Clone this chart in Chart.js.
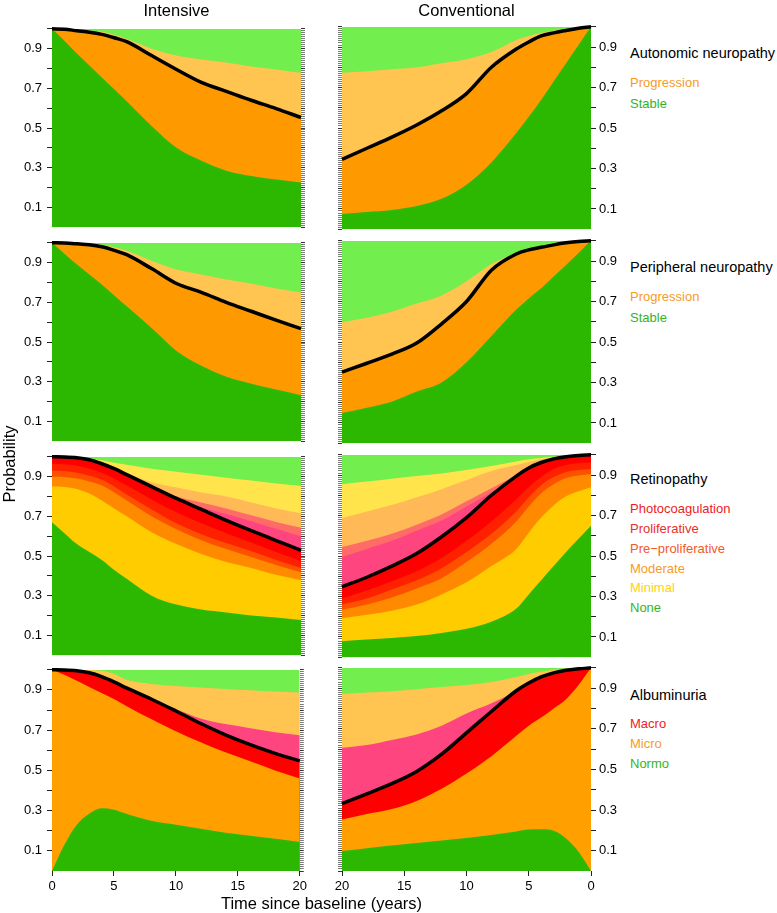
<!DOCTYPE html>
<html><head><meta charset="utf-8">
<script src="https://cdn.jsdelivr.net/npm/chart.js@4"></script>
<style>
body{margin:0;width:777px;height:913px;background:#fff;position:relative;overflow:hidden;font-family:"Liberation Sans",Arial,sans-serif;}
canvas{position:absolute;}
.t{position:absolute;white-space:nowrap;line-height:20px;height:20px;}
</style></head><body>
<script>
// ---- data (years since baseline; cumulative band upper edges) ----
const YEARS = [0,1,2,3,4,5,6,8,10,12,14,16,18,20];
const X_TICKS = [0,5,10,15,20];
const TOP = [1,1,1,1,1,1,1,1,1,1,1,1,1,1];

// Autonomic neuropathy
const AN_INT_STABLE = [1.0,0.94,0.875,0.815,0.755,0.695,0.635,0.51,0.40,0.335,0.285,0.258,0.24,0.225];
const AN_INT_PROG   = [1.0,0.998,0.99,0.983,0.972,0.955,0.935,0.865,0.795,0.73,0.685,0.64,0.598,0.553];
const AN_INT_LPROG  = [1.0,1.0,0.998,0.99,0.985,0.97,0.95,0.90,0.865,0.845,0.83,0.81,0.795,0.778];
const AN_CON_STABLE = [1.0,0.91,0.82,0.73,0.64,0.555,0.475,0.33,0.22,0.15,0.115,0.095,0.085,0.075];
const AN_CON_PROG   = [1.0,0.993,0.982,0.97,0.955,0.925,0.89,0.80,0.67,0.585,0.515,0.455,0.40,0.345];
const AN_CON_LPROG  = [1.0,0.997,0.99,0.982,0.97,0.955,0.935,0.875,0.84,0.82,0.80,0.79,0.78,0.773];

// Peripheral neuropathy
const PN_INT_STABLE = [1.0,0.945,0.89,0.84,0.79,0.735,0.68,0.57,0.455,0.38,0.325,0.29,0.26,0.232];
const PN_INT_PROG   = [1.0,0.999,0.995,0.99,0.98,0.962,0.94,0.87,0.795,0.75,0.70,0.655,0.61,0.567];
const PN_INT_LPROG  = [1.0,1.0,1.0,0.997,0.99,0.978,0.96,0.91,0.865,0.84,0.815,0.795,0.77,0.75];
const PN_CON_STABLE = [1.0,0.94,0.88,0.823,0.765,0.715,0.66,0.53,0.40,0.30,0.255,0.205,0.175,0.149];
const PN_CON_PROG   = [1.0,0.997,0.99,0.98,0.968,0.955,0.935,0.855,0.70,0.59,0.495,0.44,0.395,0.351];
const PN_CON_LPROG  = [1.0,0.999,0.995,0.986,0.975,0.96,0.94,0.885,0.80,0.73,0.69,0.65,0.62,0.598];

// Retinopathy
const RE_INT_NONE    = [0.67,0.615,0.56,0.52,0.48,0.43,0.385,0.30,0.255,0.23,0.215,0.20,0.19,0.177];
const RE_INT_MIN     = [0.85,0.848,0.838,0.815,0.78,0.74,0.70,0.62,0.56,0.51,0.47,0.44,0.405,0.378];
const RE_INT_MOD     = [0.90,0.898,0.89,0.875,0.855,0.82,0.78,0.70,0.635,0.58,0.535,0.495,0.455,0.418];
const RE_INT_PRE     = [0.93,0.928,0.92,0.905,0.885,0.85,0.81,0.735,0.665,0.61,0.565,0.525,0.48,0.44];
const RE_INT_PROL    = [0.965,0.962,0.955,0.94,0.92,0.89,0.855,0.785,0.72,0.665,0.615,0.568,0.52,0.475];
const RE_INT_PHOTO   = [1.0,0.999,0.995,0.985,0.965,0.94,0.91,0.85,0.79,0.735,0.68,0.628,0.578,0.528];
const RE_INT_PINK    = [1.0,0.999,0.995,0.985,0.965,0.94,0.91,0.85,0.79,0.745,0.712,0.675,0.637,0.60];
const RE_INT_SALMON  = [1.0,0.999,0.995,0.985,0.965,0.94,0.91,0.855,0.80,0.77,0.74,0.705,0.672,0.642];
const RE_INT_LORANGE = [1.0,1.0,0.997,0.988,0.968,0.945,0.918,0.872,0.845,0.82,0.80,0.77,0.74,0.716];
const RE_INT_LYELLOW = [1.0,1.0,0.998,0.992,0.982,0.97,0.96,0.94,0.925,0.91,0.895,0.88,0.865,0.853];
const RE_CON_NONE    = [0.65,0.585,0.52,0.45,0.38,0.31,0.24,0.175,0.14,0.12,0.105,0.095,0.087,0.079];
const RE_CON_MIN     = [0.84,0.82,0.795,0.75,0.69,0.615,0.535,0.45,0.37,0.31,0.26,0.23,0.21,0.193];
const RE_CON_MOD     = [0.905,0.898,0.885,0.855,0.81,0.745,0.67,0.56,0.47,0.39,0.34,0.295,0.26,0.234];
const RE_CON_PRE     = [0.93,0.925,0.915,0.89,0.85,0.79,0.72,0.61,0.52,0.44,0.38,0.335,0.29,0.26];
const RE_CON_PROL    = [0.962,0.958,0.95,0.93,0.89,0.84,0.78,0.67,0.575,0.49,0.425,0.375,0.33,0.29];
const RE_CON_PHOTO   = [1.0,0.997,0.99,0.98,0.962,0.935,0.895,0.80,0.69,0.595,0.512,0.45,0.395,0.348];
const RE_CON_PINK    = [1.0,0.997,0.99,0.98,0.962,0.935,0.895,0.815,0.745,0.675,0.625,0.575,0.535,0.495];
const RE_CON_SALMON  = [1.0,0.997,0.99,0.98,0.965,0.94,0.90,0.835,0.77,0.705,0.655,0.61,0.575,0.544];
const RE_CON_LORANGE = [1.0,0.998,0.993,0.988,0.978,0.965,0.95,0.92,0.875,0.83,0.79,0.752,0.72,0.688];
const RE_CON_LYELLOW = [1.0,1.0,0.995,0.99,0.984,0.978,0.967,0.945,0.925,0.908,0.895,0.882,0.868,0.855];

// Albuminuria
const AL_INT_NORMO   = [0.0,0.13,0.23,0.285,0.312,0.305,0.285,0.25,0.23,0.21,0.19,0.175,0.16,0.144];
const AL_INT_MICRO   = [1.0,0.975,0.945,0.915,0.885,0.855,0.82,0.755,0.695,0.64,0.59,0.545,0.50,0.46];
const AL_INT_MACRO   = [1.0,0.999,0.995,0.985,0.966,0.94,0.91,0.855,0.795,0.733,0.677,0.628,0.585,0.547];
const AL_INT_PINK    = [1.0,0.999,0.995,0.985,0.966,0.94,0.91,0.855,0.805,0.758,0.73,0.71,0.69,0.675];
const AL_INT_LORANGE = [1.0,1.0,1.0,0.999,0.995,0.98,0.95,0.93,0.92,0.912,0.905,0.898,0.892,0.887];
const AL_CON_NORMO   = [0.0,0.095,0.16,0.198,0.205,0.204,0.195,0.177,0.162,0.15,0.138,0.125,0.112,0.098];
const AL_CON_MICRO   = [1.0,0.915,0.845,0.80,0.755,0.715,0.665,0.565,0.48,0.405,0.345,0.305,0.28,0.253];
const AL_CON_MACRO   = [1.0,0.995,0.988,0.975,0.955,0.925,0.887,0.785,0.68,0.575,0.49,0.43,0.38,0.332];
const AL_CON_PINK    = [1.0,0.995,0.988,0.975,0.955,0.925,0.887,0.825,0.775,0.715,0.672,0.645,0.62,0.606];
const AL_CON_LORANGE = [1.0,1.0,0.997,0.99,0.98,0.97,0.955,0.93,0.915,0.905,0.895,0.885,0.878,0.871];

// ---- colours ----
const C = {
  dkgreen:'#2CB700', ltgreen:'#73EE4F', orange:'#FF9900', ltorange:'#FFC550',
  gold:'#FFCC00', moderate:'#FF8A00', prepro:'#FF5000', prolif:'#FF2000', red:'#FF0000',
  pink:'#FF4580', salmon:'#FF6C68', ltorange2:'#FFB956', ltyellow:'#FFE54B', micro:'#FFA000'
};

const ROW_TOPS = [26, 240, 454, 667];
const PANEL_H = 204;

function pts(arr){ return YEARS.map((x,i)=>({x:x, y:arr[i]})); }

function makePanel(row, isRight, bands, black){
  const isBottom = row === 3;
  const W = isRight ? 300 : 310;
  const H = 10 + PANEL_H + (isBottom ? 30 : 10);
  const cv = document.createElement('canvas');
  cv.width = W; cv.height = H;
  cv.style.width = W+'px'; cv.style.height = H+'px';
  cv.style.left = (isRight ? 330 : 0) + 'px';
  cv.style.top = (ROW_TOPS[row] - 10) + 'px';
  document.body.appendChild(cv);
  const datasets = [{
    data: pts(black), borderColor:'#000', borderWidth:3.5, fill:false, pointRadius:0,
    cubicInterpolationMode:'monotone', clip:false, borderJoinStyle:'round'
  }];
  bands.forEach(b => datasets.push({
    data: pts(b[0]), backgroundColor:b[1], borderColor:b[1], borderWidth:0,
    fill:'origin', pointRadius:0, cubicInterpolationMode:'monotone'
  }));
  const font = {family:'"Liberation Sans", Arial, sans-serif', size:13};
  new Chart(cv.getContext('2d'), {
    type:'line',
    data:{datasets},
    options:{
      responsive:false, animation:false, devicePixelRatio:1,
      events:[],
      plugins:{legend:{display:false}, tooltip:{enabled:false}},
      layout:{padding:{top:10, bottom:isBottom?0:10, left:0, right:0}},
      scales:{
        x:{
          type:'linear', min:0, max:20, reverse:isRight, display:isBottom,
          afterBuildTicks:(s)=>{ s.ticks = X_TICKS.map(v=>({value:v})); },
          ticks:{font, color:'#000', padding:3, maxRotation:0, autoSkip:false},
          grid:{drawOnChartArea:false, drawTicks:true, tickLength:5, color:'#222'},
          border:{display:false},
          afterFit:(s)=>{ if (isBottom) s.height = 30; }
        },
        y:{
          type:'linear', min:0, max:1, position: isRight ? 'right' : 'left',
          ticks:{stepSize:0.1, autoSkip:false, font, color:'#000', padding: isRight ? 3 : 5,
            callback:(v)=>{ const k=Math.round(v*10); return (k%2===1) ? (k/10).toFixed(1) : ''; }},
          grid:{drawOnChartArea:false, drawTicks:true, tickLength:5,
            color:(ctx)=> (ctx.tick && Math.round(ctx.tick.value*10)===0) ? 'rgba(0,0,0,0)' : '#222'},
          border:{display:false},
          afterFit:(s)=>{ s.width = isRight ? 39 : 52; }
        },
        yr:{
          type:'linear', min:0, max:1, position: isRight ? 'left' : 'right',
          ticks:{stepSize:0.01, display:false},
          grid:{drawOnChartArea:false, drawTicks:true, tickLength:4,
            color:(ctx)=> (ctx.tick && Math.abs(ctx.tick.value*10 - Math.round(ctx.tick.value*10))<1e-6) ? '#333' : '#7a7a7a'},
          border:{display:false},
          afterFit:(s)=>{ s.width = isRight ? 12 : 9; }
        }
      }
    }
  });
}

// Autonomic
makePanel(0,false,[[AN_INT_STABLE,C.dkgreen],[AN_INT_PROG,C.orange],[AN_INT_LPROG,C.ltorange],[TOP,C.ltgreen]],AN_INT_PROG);
makePanel(0,true ,[[AN_CON_STABLE,C.dkgreen],[AN_CON_PROG,C.orange],[AN_CON_LPROG,C.ltorange],[TOP,C.ltgreen]],AN_CON_PROG);
// Peripheral
makePanel(1,false,[[PN_INT_STABLE,C.dkgreen],[PN_INT_PROG,C.orange],[PN_INT_LPROG,C.ltorange],[TOP,C.ltgreen]],PN_INT_PROG);
makePanel(1,true ,[[PN_CON_STABLE,C.dkgreen],[PN_CON_PROG,C.orange],[PN_CON_LPROG,C.ltorange],[TOP,C.ltgreen]],PN_CON_PROG);
// Retinopathy
makePanel(2,false,[[RE_INT_NONE,C.dkgreen],[RE_INT_MIN,C.gold],[RE_INT_MOD,C.moderate],[RE_INT_PRE,C.prepro],[RE_INT_PROL,C.prolif],[RE_INT_PHOTO,C.red],
  [RE_INT_PINK,C.pink],[RE_INT_SALMON,C.salmon],[RE_INT_LORANGE,C.ltorange2],[RE_INT_LYELLOW,C.ltyellow],[TOP,C.ltgreen]],RE_INT_PHOTO);
makePanel(2,true ,[[RE_CON_NONE,C.dkgreen],[RE_CON_MIN,C.gold],[RE_CON_MOD,C.moderate],[RE_CON_PRE,C.prepro],[RE_CON_PROL,C.prolif],[RE_CON_PHOTO,C.red],
  [RE_CON_PINK,C.pink],[RE_CON_SALMON,C.salmon],[RE_CON_LORANGE,C.ltorange2],[RE_CON_LYELLOW,C.ltyellow],[TOP,C.ltgreen]],RE_CON_PHOTO);
// Albuminuria
makePanel(3,false,[[AL_INT_NORMO,C.dkgreen],[AL_INT_MICRO,C.micro],[AL_INT_MACRO,C.red],[AL_INT_PINK,C.pink],[AL_INT_LORANGE,C.ltorange],[TOP,C.ltgreen]],AL_INT_MACRO);
makePanel(3,true ,[[AL_CON_NORMO,C.dkgreen],[AL_CON_MICRO,C.micro],[AL_CON_MACRO,C.red],[AL_CON_PINK,C.pink],[AL_CON_LORANGE,C.ltorange],[TOP,C.ltgreen]],AL_CON_MACRO);

// ---- text ----
function txt(s, x, yc, size, color, align){
  const d = document.createElement('div');
  d.className = 't'; d.textContent = s;
  d.style.fontSize = size+'px'; d.style.color = color;
  d.style.top = (yc - 10) + 'px';
  if (align === 'center'){ d.style.left = (x - 200)+'px'; d.style.width='400px'; d.style.textAlign='center'; }
  else d.style.left = x+'px';
  document.body.appendChild(d);
}
txt('Intensive', 176.5, 10, 16.5, '#000', 'center');
txt('Conventional', 466.5, 10, 16.5, '#000', 'center');
txt('Time since baseline (years)', 321.5, 903, 16.5, '#000', 'center');
const prob = document.createElement('div');
prob.className='t'; prob.textContent='Probability';
prob.style.fontSize='16.5px'; prob.style.color='#000';
prob.style.width='200px'; prob.style.textAlign='center';
prob.style.left=(9-100)+'px'; prob.style.top=(464-10)+'px';
prob.style.transform='rotate(-90deg)';
document.body.appendChild(prob);

const LX = 630;
const ORANGE_T = '#F99B1C', GREEN_T = '#34B41E', RED_T = '#EC1C24';
txt('Autonomic neuropathy', LX, 53, 14.5, '#000');
txt('Progression', LX, 83, 13, ORANGE_T);
txt('Stable', LX, 104, 13, GREEN_T);
txt('Peripheral neuropathy', LX, 267, 14.5, '#000');
txt('Progression', LX, 296.5, 13, ORANGE_T);
txt('Stable', LX, 317.5, 13, GREEN_T);
txt('Retinopathy', LX, 479, 14.5, '#000');
txt('Photocoagulation', LX, 509, 13, RED_T);
txt('Proliferative', LX, 529, 13, '#E8312A');
txt('Pre\u2212proliferative', LX, 549, 13, '#F05A28');
txt('Moderate', LX, 568.5, 13, ORANGE_T);
txt('Minimal', LX, 588, 13, '#FFD400');
txt('None', LX, 608, 13, GREEN_T);
txt('Albuminuria', LX, 695, 14.5, '#000');
txt('Macro', LX, 724, 13, RED_T);
txt('Micro', LX, 744, 13, ORANGE_T);
txt('Normo', LX, 764, 13, GREEN_T);
</script>
</body></html>
